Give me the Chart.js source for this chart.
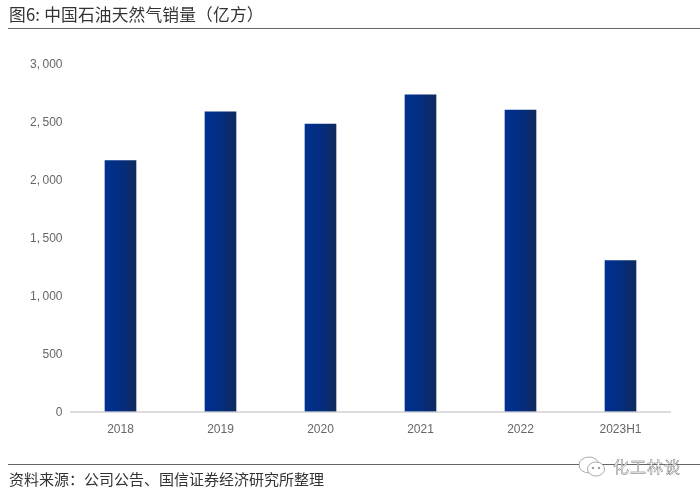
<!DOCTYPE html>
<html lang="zh-CN">

<head>
    <meta charset="UTF-8">
    <title>中国石油天然气销量</title>
    <style>
        html, body { margin: 0; padding: 0; background: #fff; }
        .page { position: relative; width: 700px; height: 497px; overflow: hidden; font-family: "Noto Sans CJK SC", sans-serif; }
        #myChart { position: absolute; left: 0; top: 0; }
        .title { position: absolute; left: 9px; top: 2px; font-size: 16.7px; line-height: 24px; letter-spacing: 0.2px; color: #333; white-space: nowrap; }
        .source { position: absolute; left: 9px; top: 468px; font-size: 15px; line-height: 22px; color: #333; white-space: nowrap; }
        .rule { position: absolute; left: 8px; width: 692px; height: 1.5px; background: #666; }
        .mark { position: absolute; left: 577px; top: 453px; width: 104px; height: 26px; }
        .mark svg { position: absolute; left: 0; top: 2px; }
        .mark span { position: absolute; left: 36px; top: 0; font-size: 16px; line-height: 26px; letter-spacing: 1px; color: #fff; -webkit-text-stroke: 0.4px #666; white-space: nowrap; }
    </style>
</head>

<body>
    <div class="page">
        <canvas id="myChart" width="700" height="497"></canvas>
        <div class="title">图6: 中国石油天然气销量（亿方）</div>
        <div class="rule" style="top: 27.5px"></div>
        <div class="rule" style="top: 463.5px"></div>
        <div class="source">资料来源：公司公告、国信证券经济研究所整理</div>
        <div class="mark">
            <svg width="34" height="26" fill="#fff" stroke="#888" stroke-width="0.7">
                <ellipse cx="12" cy="10" rx="10" ry="8"></ellipse>
                <ellipse cx="19" cy="14" rx="8.5" ry="7"></ellipse>
                <circle cx="16" cy="13" r="0.8" fill="#777"></circle>
                <circle cx="22" cy="13" r="0.8" fill="#777"></circle>
            </svg>
            <span>化工林谈</span>
        </div>
    </div>
    <script src="https://cdn.jsdelivr.net/npm/chart.js@4"></script>
    <script>
        const categories = ["2018", "2019", "2020", "2021", "2022", "2023H1"];
        const sales = [2160, 2580, 2475, 2725, 2595, 1300];
        const yMax = 3000;
        const yStep = 500;

        // each bar gets its own left to right gradient
        function barGradient(context) {
            const chart = context.chart;
            if (!chart.chartArea || context.dataIndex === undefined) return "#0a2c7c";
            const x = chart.scales.x.getPixelForValue(context.dataIndex);
            const g = chart.ctx.createLinearGradient(x - 16, 0, x + 16, 0);
            g.addColorStop(0, "#00308f");
            g.addColorStop(0.5, "#032d80");
            g.addColorStop(1, "#10295c");
            return g;
        }

        const tickFont = { family: '"Liberation Sans", sans-serif', size: 12 };

        const ctx = document.getElementById('myChart').getContext('2d');
        const myChart = new Chart(ctx, {
            type: 'bar',
            data: {
                labels: categories,
                datasets: [{
                    label: '中国石油天然气销量（亿方）',
                    data: sales,
                    backgroundColor: barGradient,
                    barThickness: 31,
                }]
            },
            options: {
                responsive: false,
                animation: false,
                layout: { padding: { top: 63, right: 29.5, left: 0, bottom: 0 } },
                plugins: {
                    legend: { display: false },
                    tooltip: { enabled: false }
                },
                scales: {
                    x: {
                        grid: { display: false },
                        border: { color: "#dcdcdc", width: 2 },
                        ticks: { color: "#666", font: tickFont, padding: 3, maxRotation: 0 },
                        afterFit: scale => { scale.height = 85.5; }
                    },
                    y: {
                        min: 0,
                        max: yMax,
                        grid: { display: false },
                        border: { display: false },
                        ticks: {
                            stepSize: yStep,
                            color: "#666",
                            font: tickFont,
                            padding: 0,
                            labelOffset: 1.5,
                            // the comma sits wide in the reference
                            callback: v => v.toLocaleString('en-US').replace(',', ',\u2009')
                        },
                        afterFit: scale => { scale.width = 70.5; }
                    }
                }
            }
        });
    </script>
</body>

</html>
